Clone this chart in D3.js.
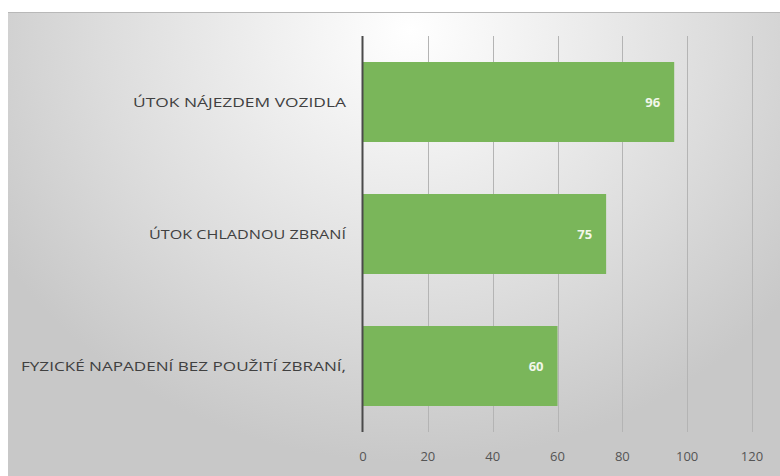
<!DOCTYPE html>
<html>
<head>
<meta charset="utf-8">
<script src="https://cdn.jsdelivr.net/npm/d3@7"></script>
<style>
  body { margin: 0; background: #fff; }
  svg { display: block; }
</style>
</head>
<body>
<div id="chart"></div>
<script>
var categories = ['ÚTOK NÁJEZDEM VOZIDLA', 'ÚTOK CHLADNOU ZBRANÍ', 'FYZICKÉ NAPADENÍ BEZ POUŽITÍ ZBRANÍ,'];
var values = [96, 75, 60];
var tickValues = [0, 20, 40, 60, 80, 100, 120];

var width = 780,
    height = 476,
    margin = { top: 36, right: 28, bottom: 44, left: 363 };

var svg = d3.select('#chart')
    .append('svg')
    .attr('width', width)
    .attr('height', height);

var defs = svg.append('defs');
var grad = defs.append('radialGradient')
    .attr('id', 'bg')
    .attr('gradientUnits', 'userSpaceOnUse')
    .attr('cx', 410).attr('cy', 30)
    .attr('r', 480)
    .attr('gradientTransform', 'translate(410,30) scale(1,0.9) translate(-410,-30)');
grad.append('stop').attr('offset', '0%').attr('stop-color', '#ffffff');
grad.append('stop').attr('offset', '30%').attr('stop-color', '#efefef');
grad.append('stop').attr('offset', '65%').attr('stop-color', '#dcdcdc');
grad.append('stop').attr('offset', '100%').attr('stop-color', '#c8c8c8');

// panel
svg.append('rect')
    .attr('x', 8).attr('y', 12)
    .attr('width', width - 8).attr('height', height - 12)
    .attr('fill', 'url(#bg)');
svg.append('line')
    .attr('x1', 8).attr('x2', width)
    .attr('y1', 12.5).attr('y2', 12.5)
    .attr('stroke', '#b8b8b8');

var x = d3.scaleLinear()
    .domain([0, 120])
    .range([margin.left, width - margin.right]);

var y = d3.scaleBand()
    .domain(categories)
    .range([margin.top, height - margin.bottom])
    .paddingInner(0.394)
    .paddingOuter(0.197);

// gridlines + ticks
svg.append('g')
    .selectAll('line')
    .data(tickValues.slice(1))
    .enter()
    .append('line')
    .attr('x1', function(d) { return Math.round(x(d)) + 0.5; })
    .attr('x2', function(d) { return Math.round(x(d)) + 0.5; })
    .attr('y1', margin.top)
    .attr('y2', height - margin.bottom)
    .attr('stroke', '#b4b4b4')
    .attr('stroke-width', 1);

svg.selectAll('.bar')
    .data(values)
    .enter()
    .append('rect')
    .attr('class', 'bar')
    .attr('x', x(0))
    .attr('y', function(d, i) { return y(categories[i]); })
    .attr('width', function(d) { return x(d) - x(0); })
    .attr('height', y.bandwidth())
    .attr('fill', '#7ab65a');

svg.selectAll('.val')
    .data(values)
    .enter()
    .append('text')
    .attr('class', 'val')
    .attr('x', function(d) { return x(d) - 14; })
    .attr('y', function(d, i) { return y(categories[i]) + y.bandwidth() / 2; })
    .attr('dy', '0.35em')
    .attr('text-anchor', 'end')
    .attr('font-family', 'Open Sans, sans-serif')
    .attr('font-size', 13)
    .attr('font-weight', 'bold')
    .attr('fill', '#f2f7ea')
    .text(function(d) { return d; });

// category labels
svg.selectAll('.cat')
    .data(categories)
    .enter()
    .append('text')
    .attr('class', 'cat')
    .attr('x', margin.left - 17)
    .attr('y', function(d) { return y(d) + y.bandwidth() / 2; })
    .attr('dy', '0.35em')
    .attr('text-anchor', 'end')
    .attr('font-family', 'Open Sans, sans-serif')
    .attr('font-size', 13)
    .attr('fill', '#404040')
    .attr('textLength', function(d, i) { return [213, 197, 325][i]; })
    .attr('lengthAdjust', 'spacingAndGlyphs')
    .text(function(d) { return d; });

// vertical axis line
svg.append('line')
    .attr('x1', Math.round(x(0)) - 0.5).attr('x2', Math.round(x(0)) - 0.5)
    .attr('y1', margin.top).attr('y2', height - margin.bottom)
    .attr('stroke', '#4a4a4a')
    .attr('stroke-width', 2);

// x tick labels
svg.selectAll('.tick-label')
    .data(tickValues)
    .enter()
    .append('text')
    .attr('class', 'tick-label')
    .attr('x', function(d) { return x(d); })
    .attr('y', height - 15)
    .attr('text-anchor', 'middle')
    .attr('font-family', 'Open Sans, sans-serif')
    .attr('font-size', 13)
    .attr('fill', '#555')
    .text(function(d) { return d; });
</script>
</body>
</html>
